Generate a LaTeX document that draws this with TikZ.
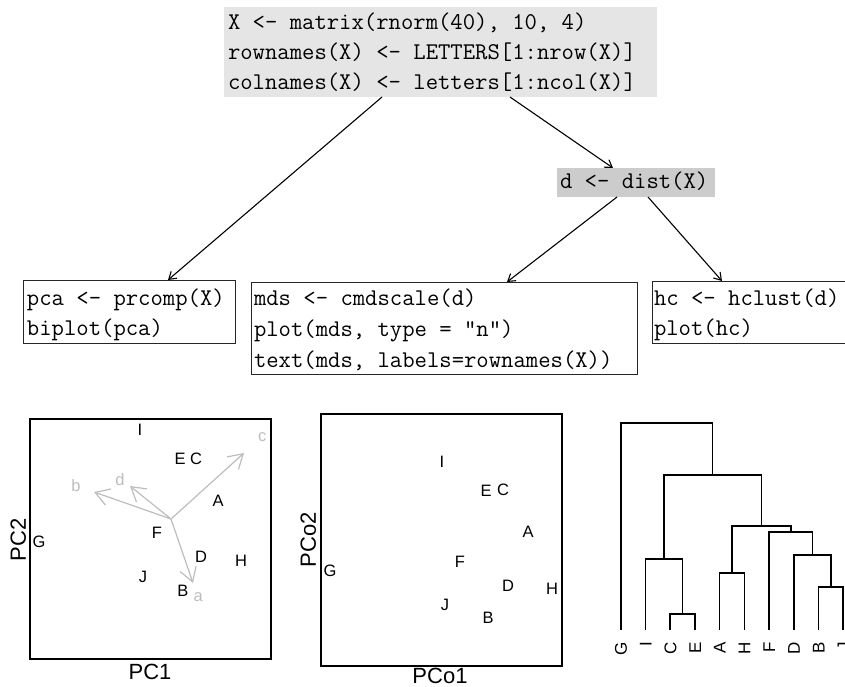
\documentclass[tikz,border=0pt]{standalone}
\usepackage{fontspec}
\usetikzlibrary{arrows.meta,calc}
\newfontfamily\plotfont{Liberation Sans}
\definecolor{vecgray}{gray}{0.74}
\newcommand{\codesize}{\ttfamily\fontsize{24}{30}\selectfont}
% code block: width, height, left pad, first baseline, line skip, lines
\newcommand{\codeblock}[6]{%
  \begin{minipage}[c][#2][t]{#1}\codesize\raggedright
    \setlength{\leftskip}{#3}\setlength{\baselineskip}{#5}%
    \rule{0pt}{#4}#6\end{minipage}}

\begin{document}
\begin{tikzpicture}[x=1pt,y=-1pt,
  codenode/.style={anchor=north west,inner sep=0pt,outer sep=0pt},
  codeframe/.style={codenode,draw=black!85,line width=0.9pt},
  conn/.style={line width=1.1pt,-{Straight Barb[length=7pt,width=9pt]}},
  plotframe/.style={line width=1.8pt},
  axlab/.style={font={\plotfont\fontsize{22}{24}\selectfont},inner sep=0pt,
    text height=15.7pt,text depth=0pt},
  ptlab/.style={font={\plotfont\fontsize{16.5}{18}\selectfont},inner sep=0pt,
    text height=11.8pt,text depth=0pt},
  veclab/.style={ptlab,text=vecgray},
  vecline/.style={draw=vecgray,line width=1.2pt,
    -{Straight Barb[length=14pt,width=17pt]}},
  dend/.style={line width=1.6pt,line join=miter},
  leaflab/.style={font={\plotfont\fontsize{17}{19}\selectfont},inner sep=0pt,
    text height=12.2pt,text depth=0pt,rotate=90,anchor=east}]
\useasboundingbox (0,0) rectangle (845,686);
\clip (0,0) rectangle (845,686);

% ---------- code boxes ----------
\node[codenode,fill=black!10] (top) at (224,7)
  {\codeblock{433pt}{90pt}{4pt}{22pt}{30pt}{X <- matrix(rnorm(40), 10, 4)\\rownames(X) <- LETTERS[1:nrow(X)]\\colnames(X) <- letters[1:ncol(X)]}};
\node[codenode,fill=black!20] (dist) at (557,168)
  {\codeblock{158pt}{29pt}{3pt}{20pt}{30pt}{d <- dist(X)}};
\node[codeframe] (pca) at (23,280)
  {\codeblock{212pt}{63pt}{4pt}{25pt}{30pt}{pca <- prcomp(X)\\biplot(pca)}};
\node[codeframe] (mds) at (251,282)
  {\codeblock{386pt}{92pt}{3pt}{23pt}{31pt}{mds <- cmdscale(d)\\plot(mds, type = "n")\\text(mds, labels=rownames(X))}};
\node[codeframe] (hc) at (652,281)
  {\codeblock{230pt}{62pt}{2pt}{24pt}{30pt}{hc <- hclust(d)\\plot(hc)}};

% ---------- connectors ----------
\draw[conn] ($(top.south west)+(158,0)$) -- ($(pca.north west)+(145,0)$);
\draw[conn] ($(top.south west)+(286,0)$) -- ($(dist.north west)+(56,0)$);
\draw[conn] ($(dist.south west)+(60,0)$) -- ($(mds.north west)+(256,0)$);
\draw[conn] ($(dist.south west)+(91,0)$) -- ($(hc.north west)+(70,0)$);

% ---------- biplot ----------
\draw[plotframe] (30,419) rectangle (271,659);
\node[axlab] (pcone) at (150,672) {PC1};
\node[axlab,rotate=90] (pctwo) at (18,540) {PC2};
\foreach \l/\x/\y in {I/140/430,E/180/459,C/196/459,A/218/501,F/157/533,
                      G/39/542,D/201/557,H/241/561,J/143/577,B/183/591}
  \node[ptlab] (bi\l) at (\x,\y) {\l};
\coordinate (vo) at (171,519);
\coordinate (va) at (193,583);
\coordinate (vb) at (94,492);
\coordinate (vc) at (244,453);
\coordinate (vd) at (130,486);
\foreach \v in {a,b,c,d} \draw[vecline] (vo) -- (v\v);
\node[veclab,text height=8.6pt] (la) at (198.3,597.3) {a};
\node[veclab] (lb) at (76,486) {b};
\node[veclab,text height=8.6pt] (lc) at (262.3,437.3) {c};
\node[veclab] (ld) at (120,479.3) {d};

% ---------- classical MDS ----------
\draw[plotframe] (321,414) rectangle (562,666);
\node[axlab] (pcoone) at (440,675.5) {PCo1};
\node[axlab,rotate=90] (pcotwo) at (308,540) {PCo2};
\foreach \l/\x/\y in {I/442/462,E/486/491,C/503/490,A/528/532,F/460/562,
                      G/330/571,D/508/586,H/552/589,J/445/605,B/488/618}
  \node[ptlab] (md\l) at (\x,\y) {\l};

% ---------- dendrogram ----------
\draw[dend] (670.16,630) |- (694.89,614) -- (694.89,630);
\draw[dend] (645.43,630) |- (682.53,559) -- (682.53,614);
\draw[dend] (719.62,630) |- (744.35,572.7) -- (744.35,630);
\draw[dend] (818.54,630) |- (843.27,587) -- (843.27,630);
\draw[dend] (793.81,630) |- (830.9,555) -- (830.9,587);
\draw[dend] (769.08,630) |- (812.36,531.7) -- (812.36,555);
\draw[dend] (731.99,572.7) |- (790.72,525.7) -- (790.72,531.7);
\draw[dend] (663.98,559) |- (761.35,475) -- (761.35,525.7);
\draw[dend] (620.7,630) |- (712.67,422.7) -- (712.67,475);
\foreach \l [count=\i from 0] in {G,I,C,E,A,H,F,D,B,J}
  \node[leaflab] (lf\l) at (620.7+24.73*\i,642) {\l};
\end{tikzpicture}
\end{document}
